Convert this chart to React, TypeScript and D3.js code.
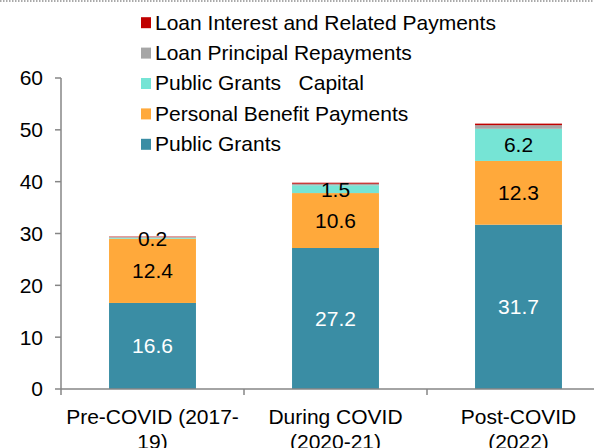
import React from "react";
import * as d3 from "d3";

const categories = ["Pre-COVID (2017-19)", "During COVID (2020-21)", "Post-COVID (2022)"];
const categoryLines = [["Pre-COVID (2017-", "19)"], ["During COVID", "(2020-21)"], ["Post-COVID", "(2022)"]];
const publicGrants = [16.6, 27.2, 31.7];
const personalBenefit = [12.4, 10.6, 12.3];
const publicGrantsCapital = [0.2, 1.5, 6.2];
const loanPrincipal = [0.1, 0.3, 0.7];
const loanInterest = [0.1, 0.2, 0.3];
const seriesNames = [
  "Public Grants",
  "Personal Benefit Payments",
  "Public Grants   Capital",
  "Loan Principal Repayments",
  "Loan Interest and Related Payments",
];
const seriesColors = ["#3A8DA4", "#FFA93B", "#76E4D5", "#A6A6A6", "#C00000"];
const showLabel = [true, true, true, false, false];
const labelColors = ["#FFFFFF", "#000000", "#000000", "#000000", "#000000"];
const yTicks = [0, 10, 20, 30, 40, 50, 60];

export default function App() {
  const W = 594, H = 448;
  const left = 61;
  const bandW = 183;
  const x = d3.scaleBand<string>().domain(categories).range([left, left + bandW * 3]).paddingInner(0.525).paddingOuter(0.2625);
  const y = d3.scaleLinear().domain([0, 60]).range([389, 78]);
  const allSeries = [publicGrants, personalBenefit, publicGrantsCapital, loanPrincipal, loanInterest];
  const rows = categories.map((c, i) => {
    const o: any = { cat: c };
    allSeries.forEach((s, k) => (o["s" + k] = s[i]));
    return o;
  });
  const stack = d3.stack<any>().keys(allSeries.map((_, k) => "s" + k))(rows);
  const font = "'Liberation Sans', Arial, sans-serif";
  const axisColor = "#868686";
  const fs = 21;

  return (
    <svg width={W} height={H} style={{ position: "absolute", left: 0, top: 0, background: "#fff" }} fontFamily={font}>
      <line x1={0} x2={W} y1={1} y2={1} stroke="#555" strokeWidth={1} strokeDasharray="1.5,1.5" />
      {stack.map((layer, k) => (
        <g key={k}>
          {layer.map((d, i) => (
            <rect key={i} x={x(categories[i])} width={x.bandwidth()} y={y(d[1])} height={y(d[0]) - y(d[1])} fill={seriesColors[k]} />
          ))}
        </g>
      ))}
      {stack.map((layer, k) =>
        showLabel[k]
          ? layer.map((d, i) => (
              <text key={k + "-" + i} x={(x(categories[i]) as number) + x.bandwidth() / 2} y={(y(d[0]) + y(d[1])) / 2} dy="0.35em" textAnchor="middle" fontSize={fs} fill={labelColors[k]}>
                {allSeries[k][i].toFixed(1)}
              </text>
            ))
          : null
      )}
      <line x1={left} x2={left} y1={y(60)} y2={y(0)} stroke={axisColor} strokeWidth={1.5} />
      <line x1={left} x2={left + bandW * 3} y1={y(0)} y2={y(0)} stroke={axisColor} strokeWidth={1.5} />
      {yTicks.map((t) => (
        <g key={t}>
          <line x1={left - 6} x2={left} y1={y(t)} y2={y(t)} stroke={axisColor} strokeWidth={1.5} />
          <text x={43} y={y(t)} dy="0.35em" textAnchor="end" fontSize={fs} fill="#000">{t}</text>
        </g>
      ))}
      {d3.range(4).map((i) => (
        <line key={i} x1={left + i * bandW} x2={left + i * bandW} y1={y(0)} y2={y(0) + 6} stroke={axisColor} strokeWidth={1.5} />
      ))}
      {categories.map((c, i) => (
        <text key={c} x={(x(c) as number) + x.bandwidth() / 2} textAnchor="middle" fontSize={fs} fill="#000">
          {categoryLines[i].map((l, j) => (
            <tspan key={j} x={(x(c) as number) + x.bandwidth() / 2} y={416.7 + j * 25} dy="0.35em">{l}</tspan>
          ))}
        </text>
      ))}
      {seriesNames.map((n, k) => {
        const row = 4 - k;
        const cy = 22.2 + row * 30.4;
        return (
          <g key={n}>
            <rect x={141} y={cy - 5} width={10} height={11} fill={seriesColors[k]} />
            <text x={155} y={cy} dy="0.35em" fontSize={fs} fill="#000" style={{ whiteSpace: "pre" }}>{n}</text>
          </g>
        );
      })}
    </svg>
  );
}
